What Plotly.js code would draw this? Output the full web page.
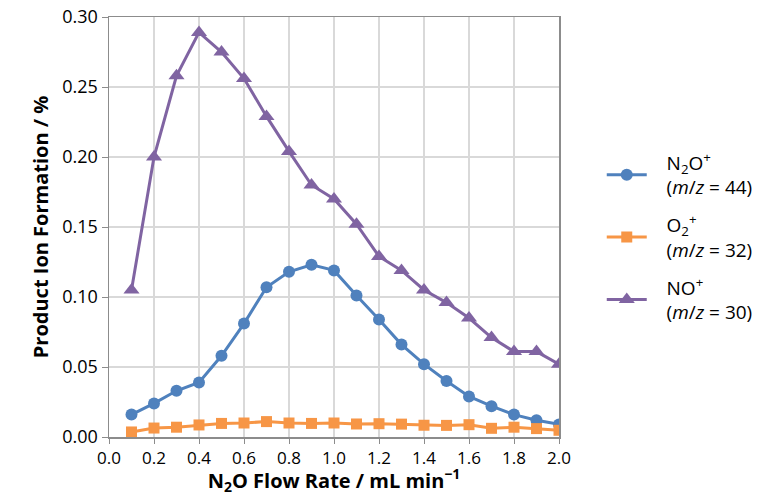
<!DOCTYPE html>
<html>
<head>
<meta charset="utf-8">
<script src="https://cdn.plot.ly/plotly-3.0.1.min.js"></script>
<style>
html,body{margin:0;padding:0;background:#fff;}
#chart{width:770px;height:496px;}
</style>
</head>
<body>
<div id="chart"></div>
<script>
const flowRate = [0.1,0.2,0.3,0.4,0.5,0.6,0.7,0.8,0.9,1.0,1.1,1.2,1.3,1.4,1.5,1.6,1.7,1.8,1.9,2.0];
const n2oIon = [0.016,0.024,0.033,0.039,0.058,0.081,0.107,0.118,0.123,0.119,0.101,0.084,0.066,0.052,0.040,0.029,0.022,0.016,0.012,0.009];
const o2Ion  = [0.0036,0.0064,0.007,0.0086,0.0097,0.010,0.011,0.010,0.0097,0.010,0.0093,0.0095,0.0092,0.0084,0.0083,0.0088,0.0062,0.007,0.006,0.0048];
const noIon  = [0.105,0.200,0.258,0.289,0.275,0.256,0.229,0.204,0.180,0.170,0.152,0.129,0.119,0.105,0.096,0.085,0.071,0.061,0.061,0.052];
const ionLabels = ["N<sub>2</sub>O<sup>+</sup>", "O<sub>2</sub><sup>+</sup>", "NO<sup>+</sup>"];
const mzLabels = ["(<i>m</i>/<i>z</i> = 44)", "(<i>m</i>/<i>z</i> = 32)", "(<i>m</i>/<i>z</i> = 30)"];
const xTitle = "N<sub>2</sub>O Flow Rate / mL min<sup>−1</sup>";
const yTitle = "Product Ion Formation / %";

const PAD = "\u00a0\u00a0\u00a0";
const names = ionLabels.map((s, i) => PAD + s + "<br>" + PAD + mzLabels[i]);

const FONT = "'Open Sans', Lato, sans-serif";
const traces = [
  {x: flowRate, y: n2oIon, name: names[0], legendgroup: "a", mode: "lines+markers",
   line: {color: "#4F81BD", width: 3}, marker: {symbol: "circle", size: 12, color: "#4F81BD"}},
  {x: flowRate, y: o2Ion, name: names[1], legendgroup: "b", mode: "lines+markers",
   line: {color: "#F79646", width: 3}, marker: {symbol: "square", size: 11, color: "#F79646"}},
  {x: flowRate, y: noIon, name: names[2], legendgroup: "c", mode: "lines+markers",
   line: {color: "#8064A2", width: 3}, marker: {symbol: "triangle-up", size: 14, color: "#8064A2"}}
];

const layout = {
  width: 770, height: 496,
  paper_bgcolor: "#fff", plot_bgcolor: "#fff",
  margin: {l: 109, r: 208, t: 17, b: 59},
  font: {family: FONT, size: 18, color: "#000"},
  showlegend: true,
  legend: {
    x: 1.095, xanchor: "left", y: 0.475, yanchor: "middle",
    font: {family: FONT, size: 19, color: "#000"},
    tracegroupgap: 10, traceorder: "grouped", itemwidth: 40,
    bgcolor: "rgba(0,0,0,0)"
  },
  xaxis: {
    range: [0, 2.0], tick0: 0, dtick: 0.2, tickformat: ".1f",
    showgrid: true, gridcolor: "#D9D9D9", gridwidth: 1.5,
    showline: true, linecolor: "#8C8C8C", linewidth: 1.5, mirror: true,
    ticks: "outside", ticklen: 5, tickcolor: "#8C8C8C",
    zeroline: false,
    tickfont: {family: FONT, size: 17},
    title: {text: xTitle, font: {family: FONT, size: 20, weight: "bold"}, standoff: 6}
  },
  yaxis: {
    range: [0, 0.30], tick0: 0, dtick: 0.05, tickformat: ".2f",
    showgrid: true, gridcolor: "#D9D9D9", gridwidth: 1.5,
    showline: true, linecolor: "#8C8C8C", linewidth: 1.5, mirror: true,
    ticks: "outside", ticklen: 6, tickcolor: "#8C8C8C",
    zeroline: false,
    tickfont: {family: FONT, size: 18},
    title: {text: yTitle, font: {family: FONT, size: 20, weight: "bold"}, standoff: 8}
  }
};

Plotly.newPlot("chart", traces, layout, {displayModeBar: false, staticPlot: true});
</script>
</body>
</html>
